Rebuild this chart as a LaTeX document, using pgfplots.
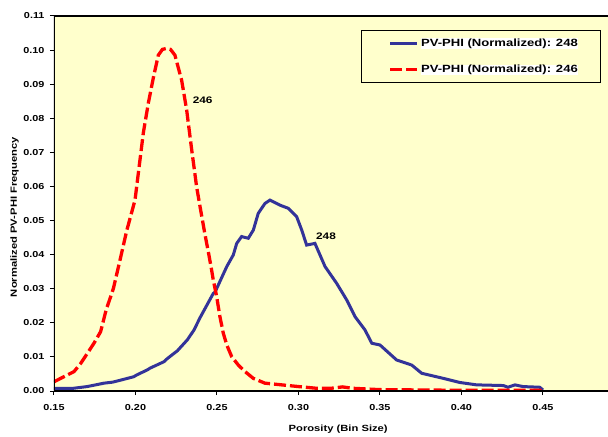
\documentclass[border=0pt]{standalone}
\usepackage{fontspec}
\setmainfont[FakeStretch=1.25]{Liberation Sans}
\usepackage{pgfplots}
\pgfplotsset{compat=1.18}
\definecolor{bg}{HTML}{FFFFCC}
\definecolor{navy}{HTML}{333399}
\newcommand\wbox[1]{{\setlength{\fboxsep}{0.4pt}\colorbox{white}{#1}}}
\pgfplotstableread{
x y
0.1500 0.0008
0.1620 0.0008
0.1704 0.0013
0.1807 0.0023
0.1860 0.0026
0.1910 0.0032
0.1990 0.0042
0.2007 0.0047
0.2073 0.0062
0.2089 0.0067
0.2175 0.0086
0.2195 0.0095
0.2257 0.0118
0.2318 0.0150
0.2359 0.0179
0.2396 0.0215
0.2477 0.0286
0.2488 0.0290
0.2560 0.0365
0.2600 0.0399
0.2621 0.0433
0.2651 0.0453
0.2692 0.0448
0.2723 0.0472
0.2753 0.0521
0.2794 0.0550
0.2825 0.0560
0.2887 0.0545
0.2937 0.0536
0.2989 0.0511
0.3020 0.0472
0.3050 0.0428
0.3101 0.0433
0.3163 0.0365
0.3234 0.0316
0.3296 0.0267
0.3347 0.0218
0.3408 0.0179
0.3450 0.0140
0.3500 0.0135
0.3602 0.0091
0.3695 0.0076
0.3756 0.0052
0.3889 0.0037
0.3990 0.0025
0.4093 0.0018
0.4257 0.0016
0.4285 0.0011
0.4328 0.0018
0.4377 0.0013
0.4480 0.0011
0.4500 0.0003
}\tblue
\pgfplotstableread{
x y
0.1500 0.0027
0.1561 0.0042
0.1623 0.0057
0.1664 0.0081
0.1704 0.0110
0.1745 0.0140
0.1786 0.0174
0.1820 0.0238
0.1864 0.0300
0.1905 0.0384
0.1946 0.0470
0.1997 0.0560
0.2048 0.0757
0.2079 0.0845
0.2110 0.0920
0.2140 0.0985
0.2165 0.1002
0.2191 0.1005
0.2215 0.1002
0.2242 0.0985
0.2283 0.0912
0.2314 0.0824
0.2345 0.0707
0.2375 0.0599
0.2400 0.0530
0.2426 0.0460
0.2450 0.0400
0.2467 0.0355
0.2477 0.0326
0.2498 0.0277
0.2518 0.0218
0.2539 0.0169
0.2560 0.0135
0.2590 0.0101
0.2631 0.0076
0.2672 0.0057
0.2723 0.0037
0.2794 0.0023
0.2897 0.0018
0.3000 0.0013
0.3110 0.0008
0.3200 0.0008
0.3270 0.0012
0.3330 0.0008
0.3500 0.0004
0.4000 0.0002
0.4500 0.0002
}\tred
\begin{document}
\begin{tikzpicture}
\begin{axis}[name=ax, scale only axis, width=554bp, height=375bp,
  xmin=0.15, xmax=0.4899, ymin=0, ymax=0.11,
  axis background/.style={fill=bg},
  axis line style={draw=none},
  xtick={0.15,0.20,0.25,0.30,0.35,0.40,0.45},
  ytick={0,0.01,0.02,0.03,0.04,0.05,0.06,0.07,0.08,0.09,0.10,0.11},
  xtick pos=bottom, ytick pos=left,
  tick align=outside, major tick length=4bp,
  tick style={black, line width=1bp},
  /pgf/number format/assume math mode=true,
  /pgf/number format/.cd, fixed, fixed zerofill, precision=2, /pgfplots/.cd,
  scaled ticks=false,
  tick label style={font=\bfseries\fontsize{8.7}{10}\selectfont},
  xticklabel style={yshift=-6bp},
  yticklabel style={xshift=-2bp},
  xlabel={Porosity (Bin Size)},
  ylabel={Normalized PV-PHI Frequency},
  label style={font=\bfseries\fontsize{9}{10}\selectfont},
  xlabel style={at={(rel axis cs:0.513,0)}, anchor=center, yshift=-38bp},
  ylabel style={at={(rel axis cs:0,0.464)}, anchor=center, yshift=39.5bp},
  legend style={at={(rel axis cs:0.987,0.963)}, anchor=north east, fill=bg,
    draw=black, line width=1.2bp, font=\bfseries\fontsize{10.5}{12}\selectfont,
    inner xsep=20bp, inner ysep=6bp, row sep=13bp, yshift=0bp},
  legend cell align=left,
  legend image code/.code={\path (0bp,-2bp); \draw[#1] (7bp,0bp) -- (34bp,0bp);},
]
\addplot[navy, line width=3bp] table[x=x,y=y] {\tblue};
\addlegendentry{\wbox{PV-PHI (Normalized): 248}}
\addplot[red, line width=3.3bp, dash pattern=on 12bp off 4bp] table[x=x,y=y] {\tred};
\addlegendentry{\wbox{PV-PHI (Normalized): 246}}
\node[font=\bfseries\fontsize{9.5}{10}\selectfont] at (axis cs:0.2412,0.0853) {246};
\node[font=\bfseries\fontsize{9.5}{10}\selectfont] at (axis cs:0.3169,0.0455) {248};
\draw[black, line width=1.8bp] (rel axis cs:1,1) -- (rel axis cs:0,1) -- (rel axis cs:0,0) -- (rel axis cs:1,0);
\end{axis}
\pgfresetboundingbox
\path[use as bounding box] ([shift={(-54bp,-46bp)}]ax.south west) rectangle ([shift={(0bp,16bp)}]ax.north east);
\end{tikzpicture}
\end{document}
